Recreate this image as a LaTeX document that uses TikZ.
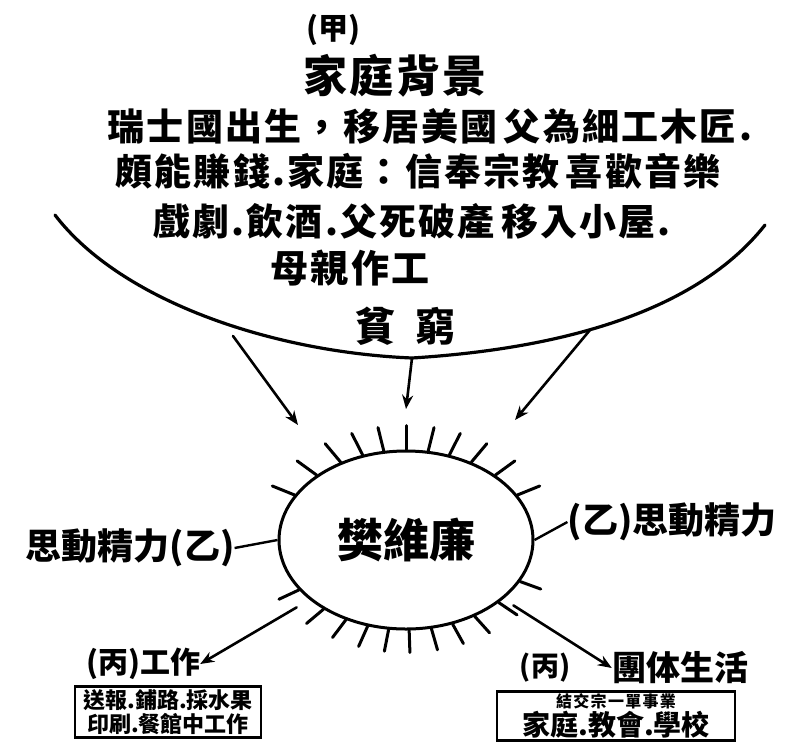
\documentclass[tikz,border=0pt]{standalone}
\usepackage{fontspec}
\setmainfont{Noto Sans CJK TC}
\usetikzlibrary{calc,arrows.meta,shapes.geometric}
\tikzset{
  ink/.style={line width=3.2pt,line cap=round,line join=round},
  arr/.style={line width=2.6pt,line cap=round,-{Stealth[length=14pt,width=11pt]}},
  spike/.style={line width=3pt,line cap=round},
  txt/.style={inner sep=0pt,font=\bfseries},
  listbox/.style={draw,line width=2.6pt,inner sep=3pt,align=center,font=\bfseries}
}
\newcommand{\fs}[1]{\fontsize{#1}{#1}\selectfont}
\newcommand{\wide}{\addfontfeatures{LetterSpace=6}}
\begin{document}
\begin{tikzpicture}[x=1pt,y=-1pt]
\useasboundingbox[fill=white] (0,0) rectangle (795,753);

% header texts
\node[txt,font=\bfseries\fs{30}] (jia) at (333,30) {(甲)};
\node[txt,font=\bfseries\fs{44}\wide] (title) at (395,76) {家庭背景};
\node[txt,font=\bfseries\fs{37}\wide] (l1) at (430,126) {瑞士國出生，移居美國\,父為細工木匠.};
\node[txt,font=\bfseries\fs{37}\wide] (l2) at (418,171) {頗能賺錢.家庭：信奉宗教\,喜歡音樂};
\node[txt,font=\bfseries\fs{37}\wide] (l3) at (412,221) {戲劇.飲酒.父死破產\,移入小屋.};
\node[txt,font=\bfseries\fs{38}\wide] (l4) at (350,268) {母親作工};
\node[txt,font=\bfseries\fs{40}] (l5) at (405,326) {貧\hspace{20pt}窮};

% bowl
\coordinate (bl) at (55,215);
\coordinate (bb) at (412,358);
\coordinate (br) at (765,225);
\draw[ink] (bl) .. controls (120,300) and (270,352) .. (bb)
               .. controls (540,350) and (690,320) .. (br);
\coordinate (a1) at (233,336);
\coordinate (a2) at (412,358);
\coordinate (a3) at (590,330);

% central ellipse
\node[draw,ellipse,line width=3pt,minimum width=254pt,minimum height=178pt,
      txt,font=\bfseries\fs{46}] (v) at (406,540) {樊維廉};

\draw[arr] (a1) -- (298,425);
\draw[arr] (a2) -- (406,409);
\draw[arr] (a3) -- (515,420);

% spikes
\foreach \a in {22,36,50,63,76,90,104,117,130,144,158}
  \draw[spike] (v.\a) -- ($(v.\a)!-24pt!(v.center)$);
\foreach \a in {-20,-34,-48,-61,-74,-88,-101,-114,-127,-140,-155}
  \draw[spike] (v.\a) -- ($(v.\a)!-22pt!(v.center)$);

% side labels
\node[txt,font=\bfseries\fs{36}] (lm) at (130,548) {思動精力(乙)};
\node[txt,font=\bfseries\fs{36}] (rm) at (672,522) {(乙)思動精力};
\draw[line width=2.4pt] (v.west) -- (lm.east);
\draw[line width=2.4pt] (v.east) -- (rm.west);

% bottom left
\node[txt,font=\bfseries\fs{30}] (work) at (143,664) {(丙)工作};
\draw[arr] ($(v.-150)+(-10,10)$) coordinate (wstart) -- (work.east);
\node[listbox,font=\bfseries\fs{22},minimum width=186pt,minimum height=50pt] (wbox) at (168,712)
  {送報.鋪路.採水果\\[2pt]印刷.餐館中工作};

% bottom right
\node[txt,font=\bfseries\fs{28}] (bing) at (545,668) {(丙)};
\node[txt,font=\bfseries\fs{34}] (group) at (680,668) {團体生活};
\draw[arr] ($(v.-30)+(8,8)$) coordinate (gstart) -- (group.west);
\node[listbox,minimum width=238pt,minimum height=45pt,inner sep=2pt] (gbox) at (616,716)
  {{\fs{16}\addfontfeatures{LetterSpace=8}結交宗一單事業}\\[1pt]{\fs{28}家庭.教會.學校}};
\end{tikzpicture}
\end{document}
